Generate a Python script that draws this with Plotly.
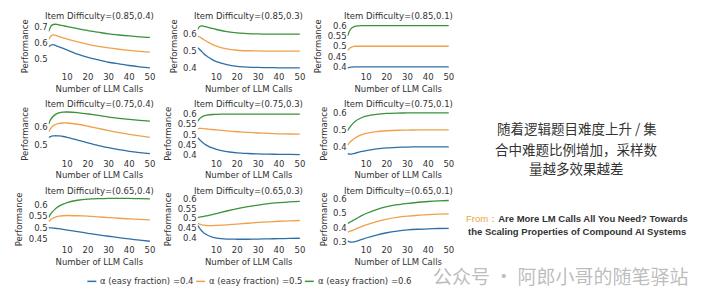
import plotly.graph_objects as go

W, H = 720, 306

calls = [1, 2, 3, 4, 5, 6, 8, 10, 15, 20, 25, 30, 35, 40, 45, 50]

alpha_labels = ["α (easy fraction) =0.4", "α (easy fraction) =0.5", "α (easy fraction) =0.6"]
series_colors = ["#2f6fa6", "#f0a04b", "#3a923a"]

panel_titles = [
    "Item Difficulty=(0.85,0.4)", "Item Difficulty=(0.85,0.3)", "Item Difficulty=(0.85,0.1)",
    "Item Difficulty=(0.75,0.4)", "Item Difficulty=(0.75,0.3)", "Item Difficulty=(0.75,0.1)",
    "Item Difficulty=(0.65,0.4)", "Item Difficulty=(0.65,0.3)", "Item Difficulty=(0.65,0.1)",
]

# (0.85,0.4)
p1_a04 = [0.575, 0.585, 0.588, 0.585, 0.580, 0.575, 0.565, 0.555, 0.530, 0.510, 0.495, 0.480, 0.470, 0.460, 0.452, 0.445]
p1_a05 = [0.620, 0.640, 0.648, 0.647, 0.643, 0.638, 0.630, 0.622, 0.605, 0.590, 0.578, 0.568, 0.560, 0.553, 0.547, 0.542]
p1_a06 = [0.670, 0.700, 0.712, 0.714, 0.713, 0.710, 0.705, 0.700, 0.687, 0.675, 0.665, 0.655, 0.648, 0.642, 0.637, 0.633]
# (0.85,0.3)
p2_a04 = [0.520, 0.510, 0.497, 0.485, 0.474, 0.465, 0.450, 0.438, 0.420, 0.410, 0.406, 0.404, 0.403, 0.402, 0.402, 0.402]
p2_a05 = [0.588, 0.583, 0.575, 0.567, 0.560, 0.553, 0.540, 0.530, 0.513, 0.505, 0.502, 0.501, 0.500, 0.500, 0.500, 0.500]
p2_a06 = [0.628, 0.645, 0.648, 0.646, 0.643, 0.640, 0.633, 0.627, 0.615, 0.607, 0.603, 0.601, 0.600, 0.600, 0.600, 0.600]
# (0.85,0.1)
p3_a04 = [0.396, 0.398, 0.399, 0.400, 0.400, 0.400, 0.400, 0.400, 0.400, 0.400, 0.400, 0.400, 0.400, 0.400, 0.400, 0.400]
p3_a05 = [0.478, 0.490, 0.496, 0.499, 0.500, 0.500, 0.500, 0.500, 0.500, 0.500, 0.500, 0.500, 0.500, 0.500, 0.500, 0.500]
p3_a06 = [0.550, 0.575, 0.588, 0.594, 0.597, 0.599, 0.600, 0.600, 0.600, 0.600, 0.600, 0.600, 0.600, 0.600, 0.600, 0.600]
# (0.75,0.4)
p4_a04 = [0.540, 0.545, 0.548, 0.549, 0.549, 0.548, 0.545, 0.540, 0.525, 0.510, 0.495, 0.483, 0.472, 0.463, 0.456, 0.450]
p4_a05 = [0.570, 0.590, 0.603, 0.610, 0.615, 0.618, 0.620, 0.620, 0.613, 0.602, 0.590, 0.578, 0.567, 0.557, 0.548, 0.540]
p4_a06 = [0.615, 0.640, 0.655, 0.665, 0.672, 0.676, 0.680, 0.681, 0.678, 0.670, 0.662, 0.653, 0.646, 0.640, 0.635, 0.630]
# (0.75,0.3)
p5_a04 = [0.485, 0.475, 0.465, 0.457, 0.450, 0.444, 0.435, 0.428, 0.417, 0.411, 0.408, 0.406, 0.405, 0.404, 0.404, 0.403]
p5_a05 = [0.528, 0.530, 0.530, 0.529, 0.528, 0.527, 0.525, 0.523, 0.518, 0.514, 0.511, 0.508, 0.506, 0.504, 0.503, 0.502]
p5_a06 = [0.565, 0.578, 0.586, 0.591, 0.594, 0.596, 0.598, 0.599, 0.600, 0.600, 0.600, 0.600, 0.600, 0.600, 0.600, 0.600]
# (0.75,0.1)
p6_a04 = [0.360, 0.357, 0.358, 0.361, 0.364, 0.367, 0.373, 0.378, 0.388, 0.394, 0.397, 0.399, 0.400, 0.400, 0.400, 0.400]
p6_a05 = [0.410, 0.425, 0.437, 0.447, 0.455, 0.462, 0.472, 0.479, 0.490, 0.495, 0.498, 0.499, 0.500, 0.500, 0.500, 0.500]
p6_a06 = [0.495, 0.515, 0.530, 0.543, 0.553, 0.561, 0.573, 0.581, 0.592, 0.597, 0.599, 0.600, 0.600, 0.600, 0.600, 0.600]
# (0.65,0.4)
p7_a04 = [0.500, 0.499, 0.498, 0.497, 0.496, 0.495, 0.492, 0.489, 0.482, 0.475, 0.468, 0.462, 0.456, 0.450, 0.445, 0.440]
p7_a05 = [0.527, 0.535, 0.541, 0.545, 0.548, 0.550, 0.552, 0.553, 0.552, 0.550, 0.547, 0.544, 0.541, 0.538, 0.536, 0.534]
p7_a06 = [0.545, 0.560, 0.571, 0.580, 0.588, 0.594, 0.603, 0.610, 0.620, 0.625, 0.627, 0.628, 0.628, 0.628, 0.627, 0.626]
# (0.65,0.3)
p8_a04 = [0.465, 0.450, 0.437, 0.427, 0.420, 0.414, 0.406, 0.401, 0.396, 0.395, 0.395, 0.396, 0.397, 0.398, 0.399, 0.400]
p8_a05 = [0.475, 0.471, 0.468, 0.466, 0.465, 0.464, 0.464, 0.465, 0.468, 0.472, 0.476, 0.480, 0.483, 0.486, 0.488, 0.490]
p8_a06 = [0.505, 0.507, 0.509, 0.511, 0.513, 0.515, 0.520, 0.525, 0.538, 0.550, 0.560, 0.568, 0.575, 0.580, 0.584, 0.587]
# (0.65,0.1)
p9_a04 = [0.310, 0.303, 0.302, 0.304, 0.307, 0.311, 0.320, 0.330, 0.350, 0.366, 0.377, 0.385, 0.390, 0.393, 0.395, 0.396]
p9_a05 = [0.370, 0.375, 0.380, 0.386, 0.392, 0.398, 0.410, 0.420, 0.442, 0.460, 0.472, 0.480, 0.486, 0.490, 0.493, 0.495]
p9_a06 = [0.430, 0.437, 0.445, 0.453, 0.461, 0.469, 0.485, 0.498, 0.525, 0.545, 0.558, 0.567, 0.575, 0.580, 0.584, 0.587]

panel_series = [
    (p1_a04, p1_a05, p1_a06), (p2_a04, p2_a05, p2_a06), (p3_a04, p3_a05, p3_a06),
    (p4_a04, p4_a05, p4_a06), (p5_a04, p5_a05, p5_a06), (p6_a04, p6_a05, p6_a06),
    (p7_a04, p7_a05, p7_a06), (p8_a04, p8_a05, p8_a06), (p9_a04, p9_a05, p9_a06),
]

x_ticks = [10, 20, 30, 40, 50]
y_ticks = [
    [0.5, 0.6, 0.7], [0.4, 0.5, 0.6], [0.4, 0.45, 0.5, 0.55, 0.6],
    [0.5, 0.6], [0.4, 0.45, 0.5, 0.55, 0.6], [0.4, 0.5, 0.6],
    [0.45, 0.5, 0.55, 0.6], [0.4, 0.45, 0.5, 0.55, 0.6], [0.3, 0.4, 0.5, 0.6],
]
y_ranges = [
    [0.427, 0.730], [0.384, 0.673], [0.381, 0.619],
    [0.429, 0.691], [0.389, 0.619], [0.338, 0.616],
    [0.428, 0.644], [0.371, 0.620], [0.289, 0.626],
]

col_px = [(49, 151), (199, 302), (350, 452)]
row_px = [(20, 70), (110, 158), (196, 246)]
title_y_px = [14, 104, 192]

FONT = "DejaVu Sans"
TXT = "#333333"

fig = go.Figure()
layout = {}
annotations = []
shapes = []

for i in range(9):
    r, c = divmod(i, 3)
    ax = "" if i == 0 else str(i + 1)
    for k in range(3):
        fig.add_trace(go.Scatter(
            x=calls, y=panel_series[i][k], mode="lines",
            line=dict(color=series_colors[k], width=1.3, shape="spline", smoothing=0.8),
            showlegend=False, xaxis="x" + ax, yaxis="y" + ax, hoverinfo="skip",
        ))
    x0, x1 = col_px[c]
    y0, y1 = row_px[r]
    layout["xaxis" + ax] = dict(
        domain=[x0 / W, x1 / W], range=[1, 50], anchor="y" + ax,
        tickvals=x_ticks, showgrid=False, zeroline=False, showline=False, ticks="",
        tickfont=dict(family=FONT, size=8.5, color=TXT),
        title=dict(text="Number of LLM Calls", font=dict(family=FONT, size=8.5, color=TXT), standoff=4),
    )
    layout["yaxis" + ax] = dict(
        domain=[1 - y1 / H, 1 - y0 / H], range=y_ranges[i], anchor="x" + ax,
        tickvals=y_ticks[i], ticktext=[("%g" % v) for v in y_ticks[i]],
        showgrid=False, zeroline=False, showline=False, ticks="",
        tickfont=dict(family=FONT, size=8.5, color=TXT),
        title=dict(text="Performance", font=dict(family=FONT, size=8.5, color=TXT), standoff=4),
    )
    annotations.append(dict(
        text=panel_titles[i], xref="paper", yref="paper",
        x=(x0 + x1) / 2 / W, y=1 - title_y_px[r] / H, xanchor="center", yanchor="middle",
        showarrow=False, font=dict(family=FONT, size=8.5, color=TXT),
    ))

# manual legend
leg_x = [88, 197.5, 307]
leg_y = 284
for k in range(3):
    shapes.append(dict(type="line", xref="paper", yref="paper",
                       x0=leg_x[k] / W, x1=(leg_x[k] + 9) / W,
                       y0=1 - leg_y / H, y1=1 - leg_y / H,
                       line=dict(color=series_colors[k], width=1.5)))
    annotations.append(dict(
        text=alpha_labels[k], xref="paper", yref="paper",
        x=(leg_x[k] + 11) / W, y=1 - leg_y / H, xanchor="left", yanchor="middle",
        showarrow=False, font=dict(family=FONT, size=8.5, color=TXT),
    ))

# right-side text
cn_lines = ["随着逻辑题目难度上升 / 集", "合中难题比例增加，采样数", "量越多效果越差"]
cn_y = [128, 149, 169]
for t, yy in zip(cn_lines, cn_y):
    annotations.append(dict(
        text=t, xref="paper", yref="paper", x=581 / W, y=1 - yy / H,
        xanchor="center", yanchor="middle", showarrow=False,
        font=dict(family="Noto Sans CJK SC", size=13.5, color="#333333"),
    ))

annotations.append(dict(
    text="<span style='color:#e9a53c'>From：</span><b>Are More LM Calls All You Need? Towards</b>",
    xref="paper", yref="paper", x=581 / W, y=1 - 220 / H, xanchor="center", yanchor="middle",
    showarrow=False, font=dict(family="Liberation Sans", size=9.5, color="#333333"),
))
annotations.append(dict(
    text="<b>the Scaling Properties of Compound AI Systems</b>",
    xref="paper", yref="paper", x=581 / W, y=1 - 233 / H, xanchor="center", yanchor="middle",
    showarrow=False, font=dict(family="Liberation Sans", size=9.5, color="#333333"),
))
annotations.append(dict(
    text="公众号 · 阿郎小哥的随笔驿站",
    xref="paper", yref="paper", x=565 / W, y=1 - 278 / H, xanchor="center", yanchor="middle",
    showarrow=False, font=dict(family="Noto Sans CJK SC", size=19, color="rgba(160,160,160,0.7)"),
))

fig.update_layout(
    width=W, height=H, margin=dict(l=0, r=0, t=0, b=0),
    paper_bgcolor="white", plot_bgcolor="white",
    showlegend=False, annotations=annotations, shapes=shapes,
    **layout,
)

fig.write_html("out.html")
